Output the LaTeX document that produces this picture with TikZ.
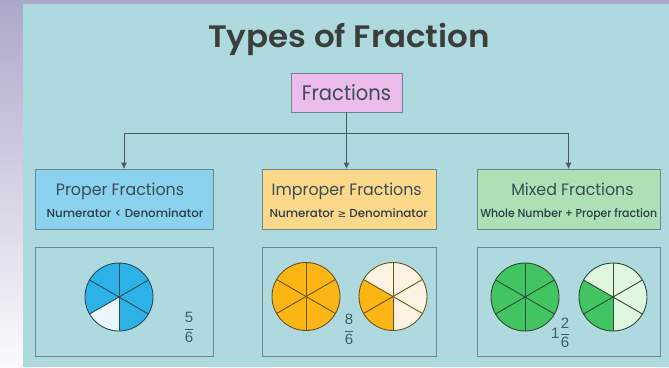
\documentclass[tikz,border=0pt]{standalone}
\usepackage{fontspec}
\usetikzlibrary{arrows.meta,calc}
\newfontfamily\titlefont{Poppins}[UprightFont=* SemiBold, FakeStretch=1.05]
\newfontfamily\popboxfont{Poppins}[FakeStretch=0.96]
\newfontfamily\popfracfont{Poppins}[FakeStretch=0.93]
\newfontfamily\popsubfont{Poppins}[UprightFont=* Medium, FakeStretch=1.02]
\newfontfamily\popsubnarrow{Poppins}[UprightFont=* Medium, FakeStretch=0.94]
\newfontfamily\arialfont{Liberation Sans}
\newfontfamily\dejafont{DejaVu Sans}
\definecolor{panel}{HTML}{AEDADF}
\definecolor{stripTop}{HTML}{ACA8CA}
\definecolor{stripBot}{HTML}{FBFBFD}
\definecolor{titlecol}{HTML}{3B3F3C}
\definecolor{txtcol}{HTML}{3A4C54}
\definecolor{subcol}{HTML}{2C3C46}
\definecolor{linecol}{HTML}{4A5A5E}
\definecolor{boxborder}{HTML}{6A8890}
\definecolor{fracfill}{HTML}{EBBCEC}
\definecolor{properfill}{HTML}{8AD2EE}
\definecolor{improperfill}{HTML}{FCD88A}
\definecolor{mixedfill}{HTML}{AEE0B6}
\definecolor{blueA}{HTML}{2CB2E6}
\definecolor{blueB}{HTML}{EAF6FC}
\definecolor{blueL}{HTML}{2A4A5A}
\definecolor{orA}{HTML}{FBB514}
\definecolor{orB}{HTML}{FCF2E2}
\definecolor{orL}{HTML}{6B5320}
\definecolor{grA}{HTML}{43C463}
\definecolor{grB}{HTML}{DFF7DF}
\definecolor{grL}{HTML}{2D4A32}
\definecolor{numcol}{HTML}{3F5F66}
\tikzset{
  typebox/.style={draw=boxborder, line width=0.8pt, minimum height=60pt, inner sep=0pt},
  picbox/.style={draw=boxborder, line width=0.9pt, minimum height=109pt, inner sep=0pt},
  boxtitle/.style={font=\popboxfont\fontsize{16.5}{18}\selectfont, text=txtcol, inner sep=0pt, anchor=base},
  boxsub/.style={font=\popsubfont\fontsize{11.6}{13}\selectfont, text=subcol, inner sep=0pt, anchor=base},
  conn/.style={draw=linecol, line width=0.9pt},
  arr/.style={conn, -{Triangle[length=6pt,width=5.5pt]}},
  fracnum/.style={font=\arialfont\fontsize{15}{17}\selectfont, text=numcol, inner sep=0pt},
}
% pie: #1 center, #2 colour of sector #5..#6, #3 colour of the rest, #4 line colour
\newcommand{\mypie}[6]{%
  \fill[#3] (#1) circle[radius=34pt];
  \fill[#2] (#1) -- ++(#5:34pt) arc[start angle=#5, end angle=#6, radius=34pt] -- cycle;
  \draw[#4, line width=0.9pt] ($(#1)+(90:34pt)$) -- ($(#1)+(270:34pt)$);
  \draw[#4, line width=0.9pt] ($(#1)+(30:34pt)$) -- ($(#1)+(210:34pt)$);
  \draw[#4, line width=0.9pt] ($(#1)+(150:34pt)$) -- ($(#1)+(330:34pt)$);
  \draw[#4, line width=0.9pt] (#1) circle[radius=34pt];
}
\begin{document}
\begin{tikzpicture}[x=1pt,y=1pt]
\useasboundingbox (0,0) rectangle (669,-367);
% background
\shade[top color=stripTop, bottom color=stripBot] (0,0) rectangle (669,-367);
\fill[panel] (23,-4) rectangle (669,-367);
% title
\node[font=\titlefont\fontsize{31}{34}\selectfont, text=titlecol, inner sep=0pt, anchor=base] (title) at (349,-47) {Types of Fraction};
% root
\node[draw=boxborder, fill=fracfill, line width=0.8pt, minimum width=111pt, minimum height=39pt, inner sep=0pt,
      font=\popfracfont\fontsize{21}{23}\selectfont, text=txtcol] (frac) at (346.5,-92.5) {Fractions};
% type boxes
\node[typebox, fill=properfill, minimum width=178pt] (pf) at (124,-199) {};
\node[typebox, fill=improperfill, minimum width=174pt] (ipf) at (349,-199) {};
\node[typebox, fill=mixedfill, minimum width=183pt] (mf) at (568.5,-199) {};
\node[boxtitle] (pft) at (120,-195) {Proper Fractions};
\node[boxsub] (pfs) at (125,-217.5) {Numerator < Denominator};
\node[boxtitle] (ipft) at (346.7,-195) {Improper Fractions};
\node[boxsub] (ipfs) at (348.8,-217.5) {Numerator {\dejafont\fontsize{10.5}{12}\selectfont ≥} Denominator};
\node[boxtitle] (mft) at (572.5,-195) {Mixed Fractions};
\node[boxsub, font=\popsubnarrow\fontsize{11.6}{13}\selectfont] (mfs) at (568.7,-217.5) {Whole Number + Proper fraction};
% connectors
\coordinate (j) at (frac.south |- 0,-133);
\draw[conn] (frac.south) -- (j);
\draw[arr] (j) -| (pf.north);
\draw[arr] (j) -| (mf.north);
\draw[arr] (frac.south) -- (frac.south |- ipf.north);
% picture boxes
\node[picbox, minimum width=178pt] (pp) at (124,-301.5) {};
\node[picbox, minimum width=174pt] (ip) at (349,-301.5) {};
\node[picbox, minimum width=183pt] (mp) at (568.5,-301.5) {};
% pies
\coordinate (c1) at (119,-297);
\coordinate (c2) at (306,-296.5);
\coordinate (c3) at (393,-296.5);
\coordinate (c4) at (525,-297);
\coordinate (c5) at (613,-297);
\mypie{c1}{blueB}{blueA}{blueL}{210}{270}
\mypie{c2}{orA}{orA}{orL}{0}{360}
\mypie{c3}{orA}{orB}{orL}{150}{270}
\mypie{c4}{grA}{grA}{grL}{0}{360}
\mypie{c5}{grA}{grB}{grL}{150}{270}
% fractions
\node[fracnum] (f1) at (189,-327.5) {$\displaystyle\frac{\hbox{5}}{\hbox{6}}$};
\node[fracnum] (f2) at (349,-329.5) {$\displaystyle\frac{\hbox{8}}{\hbox{6}}$};
\node[fracnum, anchor=west] (f3) at (551,-333) {1$\displaystyle\frac{\hbox{2}}{\hbox{6}}$};
\end{tikzpicture}
\end{document}
